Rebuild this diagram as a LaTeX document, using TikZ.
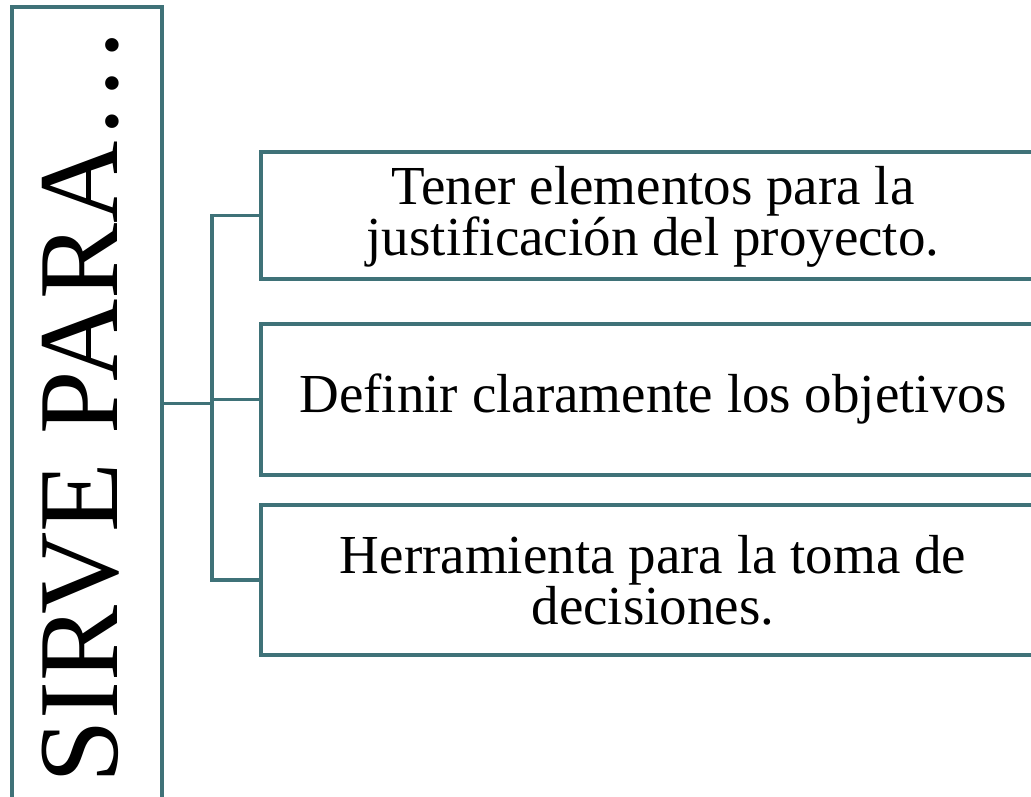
\documentclass[tikz,border=0pt]{standalone}
\usepackage{fontspec}
\setmainfont{Liberation Serif}
\definecolor{teal}{HTML}{3F7278}
\tikzset{
  frame/.style={draw=teal, line width=3.6pt, rectangle, inner sep=0pt},
  conn/.style={draw=teal, line width=3.6pt},
  boxtext/.style={font=\fontsize{55}{47}\selectfont, align=center, inner sep=0pt, text=black},
}
\begin{document}
\begin{tikzpicture}[x=1pt,y=-1pt]
\useasboundingbox (0,0) rectangle (1031,797);
\clip (0,0) rectangle (1031,797);
\fill[white] (0,0) rectangle (1031,797);
\node[frame, minimum width=150pt, minimum height=793pt] (main) at (87,403.5) {};
\node[rotate=90, inner sep=0pt, font=\fontsize{114}{114}\selectfont] (title) at (81,405) {SIRVE PARA…};
\node[frame, minimum width=784pt, minimum height=127pt] (b1) at (653,215.5) {};
\node[frame, minimum width=784pt, minimum height=151pt] (b2) at (653,399.5) {};
\node[frame, minimum width=784pt, minimum height=150pt] (b3) at (653,580) {};
\node[boxtext] (t1) at (653,217) {Tener elementos para la\\justificación del proyecto.};
\node[boxtext] (t2) at (653,399) {Definir claramente los objetivos};
\node[boxtext] (t3) at (653,580) {Herramienta para la toma de\\decisiones.};
\coordinate (j) at (212,403.5);
\draw[conn] (main.east) -- (j);
\draw[conn] (j) |- (b1.west);
\draw[conn] (j) |- (b2.west);
\draw[conn] (j) |- (b3.west);
\end{tikzpicture}
\end{document}
